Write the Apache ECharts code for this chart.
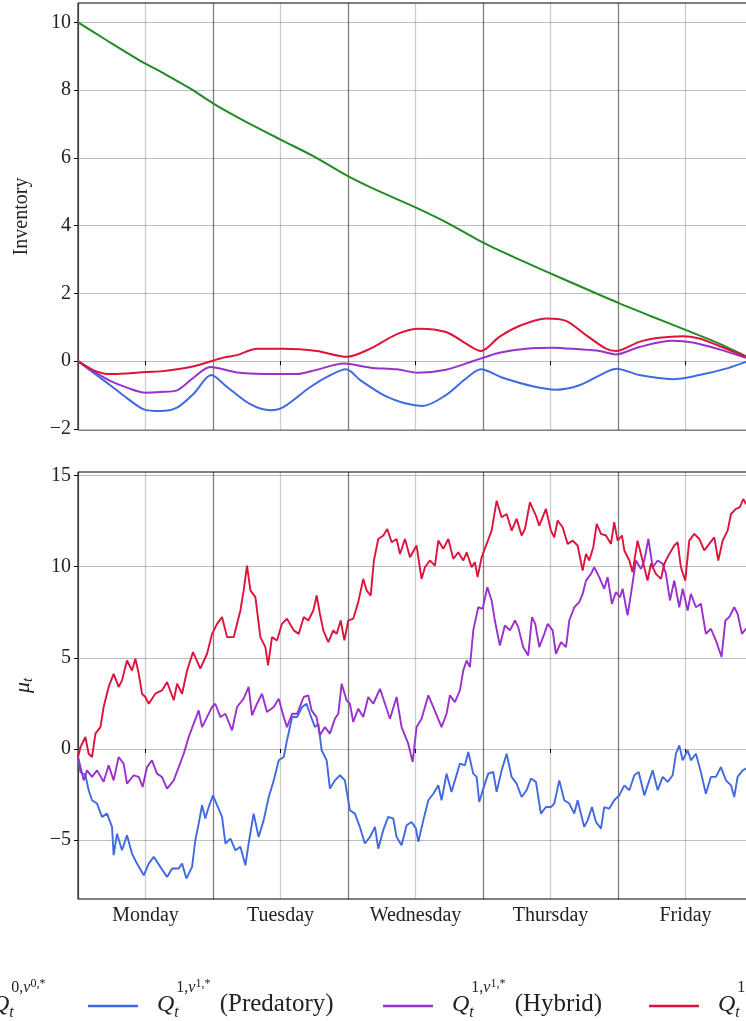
<!DOCTYPE html>
<html>
<head>
<meta charset="utf-8">
<script src="https://cdn.jsdelivr.net/npm/echarts@6/dist/echarts.min.js"></script>
<style>
html,body{margin:0;padding:0;background:#fff;overflow:hidden;width:746px;height:1021px;}
#chart{position:absolute;left:-100px;top:0;width:860px;height:1021px;}
</style>
</head>
<body>
<div id="chart"></div>
<script>
// ---------- data ----------
const dayNames = ['Monday','Tuesday','Wednesday','Thursday','Friday'];
const dayTicks = [0.5,1.5,2.5,3.5,4.5];
const invTicks = [-2,0,2,4,6,8,10];
const muTicks = [-5,0,5,10,15];

// Inventory panel: [day, inventory]
const greenInv = [[0,10],[0.2,9.5],[0.459,8.87],[0.65,8.46],[0.83,8.05],[1.0,7.61],[1.2,7.16],[1.5,6.54],[1.743,6.05],[2.0,5.46],[2.188,5.09],[2.504,4.53],[2.756,4.04],[3.005,3.49],[3.274,2.99],[3.615,2.39],[4.002,1.72],[4.25,1.32],[4.509,0.91],[4.75,0.52],[4.955,0.13],[5,0.04]];
const blueInv = [[0,0],[0.116,-0.35],[0.239,-0.71],[0.363,-1.09],[0.487,-1.42],[0.61,-1.47],[0.733,-1.37],[0.857,-0.96],[0.987,-0.41],[1.104,-0.76],[1.276,-1.27],[1.424,-1.45],[1.524,-1.35],[1.721,-0.76],[1.869,-0.41],[1.987,-0.24],[2.091,-0.56],[2.264,-1.0],[2.43,-1.25],[2.553,-1.32],[2.726,-1.0],[2.874,-0.51],[2.985,-0.24],[3.146,-0.49],[3.368,-0.74],[3.541,-0.84],[3.714,-0.71],[3.911,-0.32],[3.99,-0.22],[4.158,-0.41],[4.405,-0.53],[4.602,-0.41],[4.8,-0.22],[4.948,-0.02],[5,0.03]];
const purpleInv = [[0,0],[0.116,-0.30],[0.239,-0.58],[0.363,-0.78],[0.499,-0.93],[0.61,-0.91],[0.733,-0.86],[0.857,-0.48],[0.98,-0.17],[1.178,-0.33],[1.474,-0.38],[1.622,-0.38],[1.77,-0.25],[1.968,-0.07],[2.165,-0.19],[2.363,-0.24],[2.516,-0.34],[2.726,-0.25],[2.924,0.0],[3.022,0.13],[3.121,0.25],[3.319,0.37],[3.516,0.40],[3.713,0.35],[3.861,0.30],[3.985,0.20],[4.158,0.42],[4.405,0.60],[4.553,0.55],[4.75,0.35],[4.948,0.10],[5,0.04]];
const redInv = [[0,0],[0.116,-0.27],[0.19,-0.36],[0.239,-0.38],[0.36,-0.36],[0.499,-0.32],[0.61,-0.30],[0.733,-0.24],[0.857,-0.15],[0.987,0.0],[1.08,0.11],[1.178,0.18],[1.326,0.37],[1.524,0.37],[1.77,0.30],[1.993,0.13],[2.165,0.37],[2.363,0.80],[2.528,0.96],[2.726,0.86],[2.874,0.52],[2.985,0.30],[3.121,0.72],[3.269,1.04],[3.467,1.26],[3.615,1.19],[3.763,0.77],[3.911,0.37],[3.985,0.30],[4.158,0.57],[4.306,0.69],[4.479,0.74],[4.602,0.67],[4.75,0.45],[4.948,0.13],[5,0.04]];

// mu_t panel: [day, mu]
const blueMu = [[0,-0.44],[0.018,-1.26],[0.055,-1.44],[0.079,-2.26],[0.104,-2.81],[0.141,-2.99],[0.178,-3.72],[0.215,-3.54],[0.252,-4.27],[0.264,-5.82],[0.289,-4.64],[0.326,-5.55],[0.363,-4.73],[0.4,-5.73],[0.437,-6.28],[0.487,-6.92],[0.524,-6.28],[0.561,-5.91],[0.61,-6.46],[0.66,-7.01],[0.697,-6.55],[0.746,-6.55],[0.771,-6.28],[0.803,-7.1],[0.845,-6.46],[0.869,-5.0],[0.894,-4.09],[0.919,-3.08],[0.943,-3.81],[0.968,-3.18],[1.0,-2.54],[1.03,-3.08],[1.067,-3.72],[1.092,-5.18],[1.129,-4.91],[1.166,-5.55],[1.203,-5.36],[1.24,-6.37],[1.264,-5.18],[1.301,-3.54],[1.338,-4.82],[1.375,-3.91],[1.413,-2.63],[1.45,-1.72],[1.487,-0.62],[1.524,-0.44],[1.548,0.47],[1.586,1.75],[1.623,1.75],[1.66,2.3],[1.693,2.48],[1.718,1.93],[1.755,1.2],[1.78,1.39],[1.805,-0.07],[1.842,-0.62],[1.866,-2.17],[1.903,-1.72],[1.94,-1.44],[1.977,-1.72],[2.014,-3.36],[2.051,-3.54],[2.088,-4.27],[2.125,-5.18],[2.163,-4.82],[2.2,-4.27],[2.224,-5.46],[2.261,-4.45],[2.298,-3.72],[2.335,-3.81],[2.36,-4.82],[2.397,-5.27],[2.434,-4.18],[2.471,-4.0],[2.503,-4.36],[2.521,-5.09],[2.558,-3.91],[2.595,-2.81],[2.632,-2.45],[2.669,-1.99],[2.693,-2.81],[2.73,-1.35],[2.767,-2.35],[2.792,-1.72],[2.829,-0.8],[2.866,-0.89],[2.891,-0.16],[2.928,-1.35],[2.953,-1.53],[2.972,-2.9],[3.002,-2.17],[3.039,-1.35],[3.076,-1.26],[3.101,-2.35],[3.138,-1.17],[3.175,-0.26],[3.212,-1.53],[3.249,-1.9],[3.286,-2.63],[3.323,-2.26],[3.355,-1.62],[3.392,-1.8],[3.429,-3.54],[3.466,-3.18],[3.503,-3.18],[3.528,-2.99],[3.565,-1.72],[3.602,-2.81],[3.639,-2.99],[3.676,-3.54],[3.701,-2.81],[3.725,-3.54],[3.75,-4.27],[3.775,-3.91],[3.807,-3.18],[3.837,-4.0],[3.874,-4.36],[3.898,-3.18],[3.935,-3.27],[3.972,-2.81],[4.009,-2.54],[4.047,-1.99],[4.084,-2.26],[4.121,-1.44],[4.153,-1.26],[4.195,-2.54],[4.232,-1.72],[4.257,-1.17],[4.294,-2.26],[4.331,-1.53],[4.368,-1.8],[4.405,-1.44],[4.429,-0.26],[4.454,0.2],[4.479,-0.62],[4.516,-0.07],[4.54,-0.62],[4.577,-0.26],[4.614,-1.26],[4.651,-2.45],[4.688,-1.53],[4.725,-1.53],[4.762,-0.99],[4.8,-1.72],[4.837,-1.99],[4.861,-2.63],[4.886,-1.53],[4.923,-1.17],[4.948,-1.08],[4.99,-1.0]];
const purpleMu = [[0,-0.44],[0.018,-0.99],[0.042,-1.72],[0.067,-1.17],[0.104,-1.53],[0.141,-1.17],[0.19,-1.8],[0.227,-0.89],[0.264,-1.72],[0.301,-0.44],[0.338,-0.8],[0.363,-1.9],[0.413,-1.44],[0.45,-1.53],[0.479,-2.08],[0.511,-0.99],[0.548,-0.62],[0.585,-1.35],[0.622,-1.53],[0.66,-2.17],[0.709,-1.72],[0.746,-0.99],[0.783,-0.26],[0.82,0.66],[0.857,1.39],[0.894,2.12],[0.919,1.2],[0.956,1.75],[0.993,2.3],[1.017,2.48],[1.055,1.75],[1.092,1.93],[1.141,1.02],[1.178,2.3],[1.227,2.76],[1.264,3.4],[1.289,1.84],[1.326,2.48],[1.363,3.03],[1.4,2.03],[1.45,2.3],[1.487,2.76],[1.524,1.75],[1.548,1.2],[1.586,1.93],[1.623,1.93],[1.672,2.85],[1.706,2.94],[1.73,2.12],[1.767,1.75],[1.792,0.75],[1.829,1.2],[1.866,0.84],[1.903,1.66],[1.928,1.93],[1.953,3.58],[1.99,2.66],[2.014,2.48],[2.039,1.48],[2.076,2.21],[2.113,1.75],[2.15,2.85],[2.187,2.48],[2.237,3.3],[2.274,2.48],[2.311,1.66],[2.36,2.85],[2.397,1.2],[2.446,0.29],[2.479,-0.71],[2.508,1.2],[2.545,1.66],[2.595,2.94],[2.632,2.3],[2.693,1.2],[2.73,1.93],[2.755,2.94],[2.792,2.57],[2.829,3.21],[2.854,4.31],[2.879,4.85],[2.903,4.49],[2.928,6.5],[2.965,7.77],[2.997,7.68],[3.032,8.87],[3.064,8.14],[3.088,7.04],[3.125,5.67],[3.162,6.77],[3.2,6.5],[3.237,7.04],[3.261,6.68],[3.298,5.58],[3.335,5.13],[3.363,7.23],[3.387,6.86],[3.417,5.58],[3.454,6.31],[3.479,6.86],[3.516,6.5],[3.54,5.22],[3.578,5.86],[3.615,5.58],[3.639,7.04],[3.676,7.77],[3.713,8.05],[3.738,8.5],[3.763,9.23],[3.8,9.6],[3.824,9.96],[3.861,9.42],[3.898,8.78],[3.923,9.42],[3.955,7.96],[3.985,8.6],[4.015,8.32],[4.034,8.78],[4.071,7.32],[4.096,8.5],[4.133,10.33],[4.17,9.87],[4.195,10.33],[4.225,11.51],[4.257,9.96],[4.294,10.33],[4.331,10.15],[4.355,9.6],[4.385,8.14],[4.417,9.23],[4.454,7.77],[4.479,8.78],[4.516,7.59],[4.54,8.5],[4.577,7.77],[4.614,7.96],[4.651,6.31],[4.688,6.59],[4.725,5.95],[4.767,5.04],[4.795,7.04],[4.824,7.23],[4.861,7.77],[4.886,7.41],[4.918,6.31],[4.948,6.59],[4.99,6.5]];
const redMu = [[0,-0.44],[0.018,0.1],[0.055,0.66],[0.079,-0.26],[0.104,-0.44],[0.129,0.84],[0.166,1.2],[0.19,2.3],[0.227,3.4],[0.264,4.12],[0.301,3.4],[0.326,3.76],[0.363,4.85],[0.4,4.3],[0.425,4.95],[0.45,4.12],[0.474,3.03],[0.499,2.85],[0.524,2.48],[0.573,3.03],[0.622,3.21],[0.66,3.67],[0.709,2.67],[0.734,3.58],[0.771,3.03],[0.808,4.3],[0.852,5.31],[0.906,4.4],[0.956,5.22],[0.993,6.31],[1.03,6.86],[1.067,7.23],[1.104,6.13],[1.153,6.13],[1.203,7.59],[1.227,8.69],[1.252,10.05],[1.277,8.69],[1.314,8.32],[1.351,6.13],[1.388,5.58],[1.408,4.58],[1.437,6.13],[1.474,5.95],[1.511,6.86],[1.548,7.14],[1.598,6.5],[1.635,6.31],[1.672,7.23],[1.706,7.04],[1.743,7.59],[1.768,8.41],[1.792,7.41],[1.817,6.5],[1.854,5.86],[1.891,6.5],[1.916,6.31],[1.946,7.04],[1.973,5.95],[2.002,7.04],[2.039,7.14],[2.076,8.05],[2.113,9.32],[2.138,8.69],[2.168,8.41],[2.192,10.33],[2.224,11.51],[2.262,11.7],[2.291,12.06],[2.323,11.33],[2.36,11.51],[2.385,10.69],[2.422,11.51],[2.459,10.51],[2.508,11.15],[2.545,9.32],[2.57,9.96],[2.607,10.33],[2.644,10.05],[2.669,11.42],[2.706,10.97],[2.743,11.51],[2.78,10.42],[2.817,10.78],[2.854,10.33],[2.879,10.78],[2.916,9.96],[2.94,10.24],[2.96,9.42],[2.99,10.51],[3.027,11.24],[3.064,11.97],[3.101,13.61],[3.138,12.7],[3.175,12.88],[3.212,11.97],[3.249,12.61],[3.286,11.7],[3.311,12.06],[3.348,13.52],[3.392,12.79],[3.417,12.24],[3.466,13.16],[3.503,11.97],[3.528,11.6],[3.553,12.52],[3.59,12.15],[3.627,11.24],[3.664,11.42],[3.701,11.15],[3.738,9.78],[3.763,10.69],[3.787,10.33],[3.817,11.06],[3.842,12.34],[3.874,11.79],[3.911,11.7],[3.948,11.24],[3.972,12.43],[3.997,11.42],[4.029,11.7],[4.047,10.88],[4.084,10.33],[4.108,9.69],[4.145,11.42],[4.182,10.33],[4.219,9.23],[4.244,10.15],[4.281,9.6],[4.318,9.32],[4.343,10.15],[4.38,10.69],[4.417,11.15],[4.442,11.33],[4.466,9.96],[4.498,9.23],[4.528,11.42],[4.565,11.79],[4.602,11.51],[4.639,10.88],[4.676,11.24],[4.713,11.6],[4.743,10.33],[4.775,11.42],[4.812,11.97],[4.837,12.88],[4.874,13.16],[4.903,13.25],[4.928,13.7],[4.948,13.43],[4.99,13.6]];

// ---------- styling ----------
const FONT = 'Liberation Serif';
const TXT = '#222';
const C = {green:'#228B22', blue:'#4169E1', purple:'#9932CC', red:'#DC143C'};
const minus = v => (v < 0 ? '\u2212' + Math.abs(v) : String(v));
const isOn = (v, arr) => arr.some(t => Math.abs(t - v) < 1e-6);

const rich = {
  q:    {fontFamily:FONT, fontStyle:'italic', fontSize:24, lineHeight:24, color:TXT, padding:[0,0,3,14]},
  sub:  {fontFamily:FONT, fontStyle:'italic', fontSize:16, lineHeight:16, color:TXT, width:1, padding:[14,0,0,0]},
  supn: {fontFamily:FONT, fontSize:16, lineHeight:16, color:TXT, padding:[0,0,36,1]},
  supi: {fontFamily:FONT, fontStyle:'italic', fontSize:16, lineHeight:16, color:TXT, padding:[0,0,36,0]},
  sup2: {fontFamily:FONT, fontSize:12, lineHeight:12, color:TXT, padding:[0,0,44,0]},
  txt:  {fontFamily:FONT, fontSize:25, lineHeight:25, color:TXT, padding:[0,0,3,3]}
};
const label = (a, b, suffix) => '{q|Q}{sub|t}{supn|' + a + ',}{supi|\u03BD}{sup2|' + b + ',*}' + (suffix ? '{txt| ' + suffix + '}' : '');
const legendBase = {top:973, icon:'rect', itemWidth:50, itemHeight:2.5, selectedMode:false, textStyle:{rich:rich}};

// main x axis: mid-day ticks, labels and light grid lines
function xAxisMain(gi, showLabels) {
  return {
    type:'value', gridIndex:gi, min:0, max:5, interval:0.5, position:'bottom',
    axisLine:{show:false},
    axisTick:{show:true, customValues:dayTicks, length:4, lineStyle:{color:'#000', width:1}},
    axisLabel:{show:showLabels, customValues:dayTicks, margin:7, fontFamily:FONT, fontSize:20, color:TXT,
      formatter: v => (isOn(v, dayTicks) ? dayNames[Math.floor(v)] : '')},
    splitLine:{show:true, lineStyle:{color:'rgba(0,0,0,0.2)', width:1.3}}
  };
}
// helper x axis: darker day-boundary lines only
function xAxisDays(gi) {
  return {
    type:'value', gridIndex:gi, min:0, max:5, interval:1, position:'bottom',
    axisLine:{show:false}, axisTick:{show:false}, axisLabel:{show:false},
    splitLine:{show:true, lineStyle:{color:'rgba(0,0,0,0.5)', width:1.3}}
  };
}
function yAxisFor(gi, min, max, step, ticks, name, nameGap, nameStyle) {
  return {
    type:'value', gridIndex:gi, min:min, max:max, minInterval:step, maxInterval:step,
    axisLine:{show:false},
    axisTick:{show:true, customValues:ticks, length:4, lineStyle:{color:'#000'}},
    axisLabel:{customValues:ticks, margin:7, fontFamily:FONT, fontSize:20, color:TXT,
      formatter: v => (isOn(v, ticks) ? minus(Math.round(v)) : '')},
    splitLine:{show:true, lineStyle:{color:'#bdbdbd', width:1}},
    name:name, nameLocation:'middle', nameGap:nameGap, nameTextStyle:nameStyle
  };
}
function line(name, data, color, xi, yi, width, smooth) {
  return {name:name, type:'line', xAxisIndex:xi, yAxisIndex:yi, data:data, showSymbol:false, symbol:'none',
    smooth:smooth, lineStyle:{color:color, width:width}, itemStyle:{color:color}, z:3};
}

const chart = echarts.init(document.getElementById('chart'), null, {renderer:'canvas'});
chart.setOption({
  animation:false,
  backgroundColor:'#fff',
  grid:[
    {left:178, right:7, top:3, height:427, show:true, borderColor:'#000', borderWidth:1, backgroundColor:'transparent'},
    {left:178, right:7, top:472, height:427, show:true, borderColor:'#000', borderWidth:1, backgroundColor:'transparent'}
  ],
  xAxis:[xAxisMain(0,false), xAxisDays(0), xAxisMain(1,true), xAxisDays(1)],
  yAxis:[
    yAxisFor(0, -2.03, 10.57, 2, invTicks, 'Inventory', 46, {fontFamily:FONT, fontSize:20, color:TXT}),
    yAxisFor(1, -8.22, 15.18, 5, muTicks, '{mu|\u03BC}{s|t}', 42, {rich:{
      mu:{fontFamily:FONT, fontStyle:'italic', fontSize:22, color:TXT},
      s:{fontFamily:FONT, fontStyle:'italic', fontSize:15, color:TXT, padding:[10,0,0,0]}
    }})
  ],
  legend:[
    Object.assign({}, legendBase, {left:18, data:['Q0'], formatter: () => label('0','0','')}),
    Object.assign({}, legendBase, {left:183, data:['Qpred'], formatter: () => label('1','1','(Predatory)')}),
    Object.assign({}, legendBase, {left:478, data:['Qhyb'], formatter: () => label('1','1','(Hybrid)')}),
    Object.assign({}, legendBase, {left:744, data:['Qcoop'], formatter: () => label('1','1','(Cooperative)')})
  ],
  series:[
    line('Q0', greenInv, C.green, 0, 0, 2, 0.3),
    line('Qpred', blueInv, C.blue, 0, 0, 2, 0.3),
    line('Qhyb', purpleInv, C.purple, 0, 0, 2, 0.3),
    line('Qcoop', redInv, C.red, 0, 0, 2, 0.3),
    line('Qpred', blueMu, C.blue, 2, 1, 1.9, false),
    line('Qhyb', purpleMu, C.purple, 2, 1, 1.9, false),
    line('Qcoop', redMu, C.red, 2, 1, 1.9, false)
  ]
});
</script>
</body>
</html>
